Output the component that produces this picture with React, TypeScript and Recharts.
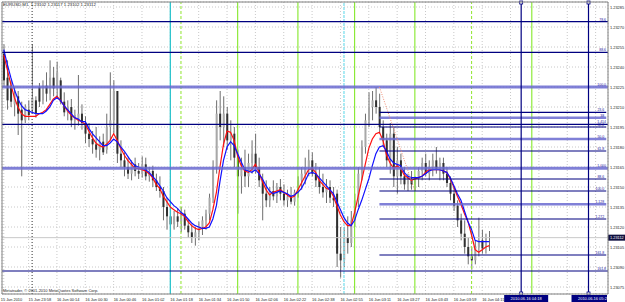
import React from "react";
import { Bar, CartesianGrid, ComposedChart, Line, ReferenceLine, XAxis, YAxis } from "recharts";

// prices are kept in points above 1.23000 (1 point = 0.00001)
const BASE = 1.23;

// EURUSD M1, two-minute candles
const OPEN = [250,232,226,212,218,208,200,208,208,215,225,215,226,220,232,224,230,214,206,210,200,200,205,198,190,186,182,178,184,178,195,200,222,175,170,165,160,167,162,160,167,158,162,155,150,147,135,128,122,128,124,130,121,116,112,116,120,125,130,142,165,205,195,205,185,190,172,158,165,158,168,175,165,155,145,140,147,143,150,145,140,143,139,146,155,160,165,170,160,155,150,146,150,142,145,100,95,112,108,125,140,160,180,200,210,215,210,195,185,170,190,158,170,158,152,155,152,156,162,168,160,165,170,163,168,160,153,145,136,125,115,105,98,95,105,110,104,102];
const HIGH = [257,245,230,225,222,214,212,215,257,218,228,230,236,245,240,244,232,221,215,216,208,234,212,203,198,192,195,188,190,205,236,230,222,185,176,172,170,172,168,173,172,165,166,160,158,150,142,134,132,134,135,133,126,122,120,124,128,133,145,170,215,222,218,210,200,195,178,172,178,175,185,190,172,160,155,150,155,153,156,152,148,150,148,158,165,172,178,176,168,165,160,156,155,150,148,120,120,128,132,145,165,185,205,221,222,225,220,200,190,198,195,180,175,165,160,162,158,165,172,175,170,175,180,172,172,165,158,150,140,130,125,112,105,110,127,118,115,117];
const LOW = [225,208,210,203,189,158,198,200,206,202,210,212,214,215,218,216,212,203,200,195,193,196,193,183,180,175,172,170,174,175,185,190,168,165,158,156,155,158,156,157,155,154,150,147,142,125,118,112,118,120,116,118,112,108,106,110,114,118,125,138,160,185,180,178,170,165,130,145,150,150,160,160,150,125,135,135,140,138,140,136,135,137,136,142,148,152,158,158,150,145,142,138,138,135,90,82,90,100,105,120,135,155,175,195,200,205,190,180,165,160,150,145,152,148,147,148,147,150,155,158,155,158,160,155,155,150,140,132,120,110,100,92,88,92,98,100,100,102];
const CLOSE = [230,215,214,220,205,200,210,204,217,205,214,226,220,232,224,236,214,206,210,200,204,205,198,190,186,182,178,184,176,195,200,222,175,170,165,160,167,162,160,167,158,162,155,150,147,135,128,122,128,124,130,121,116,112,116,120,125,130,142,165,205,195,205,185,190,172,158,165,158,168,175,165,155,145,140,147,143,150,145,140,143,139,146,155,160,165,170,160,155,150,146,150,142,140,100,95,112,108,125,140,160,180,200,210,215,210,195,185,170,190,158,170,158,152,155,152,156,162,168,160,165,170,163,168,160,153,145,136,125,115,105,98,95,105,110,104,112];
// fast (red) and slow (blue) moving averages
const MA_FAST = [249,238,227,217,210,205,203,203,203,203,205,206,208,212,216,218,215,211,207,204,202,200,199,197,192,187,183,181,180,182,185,190,185,179,174,170,167,164,164,163,162,160,157,152,149,143,139,135,133,131,130,128,124,121,119,118,119,120,123,133,146,165,182,192,191,185,173,166,162,161,163,167,161,154,148,144,146,147,148,146,144,142,143,148,153,158,163,164,161,155,152,149,148,143,136,129,124,121,121,131,143,155,167,179,186,190,191,185,174,168,164,166,164,159,157,155,156,157,158,161,163,163,163,163,162,161,156,150,143,137,130,124,114,103,101,103,105,106];
const MA_SLOW = [253,242,232,223,216,211,208,207,206,205,205,205,207,210,215,217,215,211,208,205,202,201,199,199,194,190,187,184,181,181,183,186,184,180,177,173,169,166,165,164,163,161,158,155,151,147,142,139,136,134,131,129,126,123,121,120,119,119,120,126,136,154,170,180,184,181,175,169,163,162,161,163,160,156,151,147,145,146,147,146,145,143,144,146,149,154,160,161,160,157,154,151,148,145,139,133,127,123,121,125,133,140,148,156,166,175,180,181,177,171,168,167,166,161,158,157,157,157,158,160,162,163,163,163,162,161,157,151,145,140,132,124,118,110,109,109,109,109];

const SLOTS = 171; // candle slots across the window, the rest is empty shift space

const TICK_IDX = [0, 7, 15, 23, 31, 39, 47, 55, 63, 71, 79, 87, 95, 103, 111, 119, 127, 135, 143, 151, 159, 167];
const TICK_TEXT = ["15 Jun 2010", "15 Jun 23:58", "16 Jun 00:14", "16 Jun 00:30", "16 Jun 00:46", "16 Jun 01:02", "16 Jun 01:18", "16 Jun 01:34", "16 Jun 01:50", "16 Jun 02:06", "16 Jun 02:22", "16 Jun 02:38", "16 Jun 02:55", "16 Jun 03:11", "16 Jun 03:27", "16 Jun 03:43", "16 Jun 03:59", "16 Jun 04:15", "", "", "", ""];
const PRICE_TICKS = [75, 90, 105, 120, 135, 150, 165, 180, 195, 210, 225, 240, 255, 270, 285];

// fibonacci levels
const FULL_LEVELS = [274, 251, 197, 87];
const FULL_TEXT = ["78.6", "88.6", "1.414", "161.8"];
const FULL_WIDE_LEVELS = [225, 164];
const FULL_WIDE_TEXT = ["100.0", "1.000"];
const PART_LEVELS = [206, 195, 177, 156, 147, 126, 99];
const PART_TEXT = ["23.6", "38.2", "61.8", "88.6", "100.0", "1.272", "161.8"];
const PART_WIDE_LEVELS = [202, 186, 137];
const PART_WIDE_TEXT = ["38", "50.0", "1.128"];
const FIB_FROM = 106;

const GREEN_SOLID = [66, 83, 99, 116, 149];
const GREEN_DASHED = [50, 132];
const TIME_LINES = [146, 165];
const TIME_LINE_TEXT = ["2010.06.16 04:18", "2010.06.16 05:27"];
const BID = 112;

const data = Array.from({ length: SLOTS }, (_, i) =>
  i < OPEN.length
    ? { i, o: OPEN[i], h: HIGH[i], l: LOW[i], c: CLOSE[i], fast: MA_FAST[i], slow: MA_SLOW[i] }
    : { i }
);

const fmt = (v: number) => (BASE + v / 100000).toFixed(5);
const FONT = "'Liberation Sans', Arial, sans-serif";
const NAVY = "#000080";

function Candle(props: any) {
  const { x, y, width, height, payload } = props;
  if (!payload || payload.h == null || !isFinite(y)) return null;
  const span = payload.h - payload.l || 1;
  const at = (v: number) => y + ((payload.h - v) / span) * height;
  const cx = x + width / 2;
  const top = at(Math.max(payload.o, payload.c));
  const bot = at(Math.min(payload.o, payload.c));
  const up = payload.c >= payload.o;
  return (
    <g>
      <line x1={cx} x2={cx} y1={y} y2={y + height} stroke="#6e6e6e" strokeWidth={1} />
      <rect x={x} y={top} width={width} height={Math.max(bot - top, 1)} fill={up ? "#a8a8a8" : "#303030"} />
    </g>
  );
}

function TimeTick(props: any) {
  const { x, y, payload } = props;
  const k = TICK_IDX.indexOf(payload.value);
  const text = k >= 0 ? TICK_TEXT[k] : "";
  return (
    <text x={payload.value === 0 ? x - 3 : x} y={y + 5} fontSize={3.9} fontFamily={FONT} fill="#222" textAnchor="start" dominantBaseline="central">
      {text}
    </text>
  );
}

function PriceTick(props: any) {
  const { x, y, payload } = props;
  return (
    <text x={x + 2} y={y} fontSize={3.9} fontFamily={FONT} fill="#222" textAnchor="start" dominantBaseline="central">
      {fmt(payload.value)}
    </text>
  );
}

function FibText(props: any) {
  const { viewBox, text } = props;
  if (!viewBox) return null;
  return (
    <text x={viewBox.x + viewBox.width - 2} y={viewBox.y - 0.9} fontSize={3.5} fontFamily={FONT} fill="#1a1aa0" textAnchor="end">
      {text}
    </text>
  );
}

function TimeFlag(props: any) {
  const { viewBox, text } = props;
  if (!viewBox) return null;
  const { x, y, height } = viewBox;
  const left = x - 17;
  const right = Math.min(x + 27, 607);
  return (
    <g>
      <rect x={x - 1.5} y={y - 1} width={3} height={3} fill="#fff" stroke={NAVY} strokeWidth={0.8} />
      <rect x={x - 1.5} y={y + height - 2} width={3} height={3} fill="#fff" stroke={NAVY} strokeWidth={0.8} />
      <rect x={left} y={y + height + 1} width={right - left} height={7} fill={NAVY} />
      <text x={left + 22} y={y + height + 4.7} fontSize={4} fontFamily={FONT} fill="#fff" textAnchor="middle" dominantBaseline="central">
        {text}
      </text>
    </g>
  );
}

function BidTag(props: any) {
  const { viewBox } = props;
  if (!viewBox) return null;
  const x = viewBox.x + viewBox.width;
  return (
    <g>
      <rect x={x} y={viewBox.y - 3} width={17} height={6} fill="#101040" />
      <text x={x + 2} y={viewBox.y} fontSize={3.9} fontFamily={FONT} fill="#fff" dominantBaseline="central">
        {fmt(BID)}
      </text>
    </g>
  );
}

export default function App() {
  return (
    <div style={{ position: "relative", width: 625, height: 302, overflow: "hidden", background: "#fff" }}>
      <style>{"body{margin:0}"}</style>
      <ComposedChart width={625} height={302} data={data} margin={{ top: 0, right: 0, bottom: 0, left: 0 }}>
        <CartesianGrid stroke="#c8c8c8" strokeDasharray="1 2" />
        <XAxis dataKey="i" type="category" ticks={TICK_IDX} interval={0} height={8} tickSize={0} tickMargin={0} tickLine={false} axisLine={{ stroke: "#808080" }} tick={<TimeTick />} />
        <XAxis xAxisId="top" orientation="top" dataKey="i" type="category" height={2} tick={false} tickLine={false} axisLine={{ stroke: "#808080" }} />
        <YAxis yAxisId="left" orientation="left" width={2} type="number" domain={[0, 1]} tick={false} tickLine={false} axisLine={{ stroke: "#808080" }} />
        <YAxis orientation="right" type="number" domain={[69.75, 288.75]} allowDataOverflow ticks={PRICE_TICKS} interval={0} width={17} tickSize={0} tickMargin={0} tickLine={false} axisLine={{ stroke: "#808080" }} tick={<PriceTick />} />

        <ReferenceLine x={8} stroke="#303030" strokeDasharray="1 2" />
        <ReferenceLine x={47} stroke="#2cc3cc" strokeWidth={1.3} />
        <ReferenceLine x={96} stroke="#7fe0ee" strokeWidth={1.3} strokeDasharray="3 1" />
        {GREEN_SOLID.map((v) => (
          <ReferenceLine key={"g" + v} x={v} stroke="#84e82a" strokeWidth={1.1} />
        ))}
        {GREEN_DASHED.map((v) => (
          <ReferenceLine key={"gd" + v} x={v} stroke="#9ae840" strokeWidth={1.1} strokeDasharray="3 2" />
        ))}
        <ReferenceLine y={BID} stroke="#c8c8c8" label={(p: any) => <BidTag {...p} />} />

        <Bar dataKey={(d: any) => (d.h == null ? null : [d.l, d.h])} barSize={2} shape={(p: any) => <Candle {...p} />} isAnimationActive={false} />
        <Line dataKey="fast" stroke="#ff1010" strokeWidth={1.2} dot={false} activeDot={false} isAnimationActive={false} />
        <Line dataKey="slow" stroke="#1010ff" strokeWidth={1.2} dot={false} activeDot={false} isAnimationActive={false} />

        {FULL_WIDE_LEVELS.map((v, k) => (
          <ReferenceLine key={"fw" + v} y={v} stroke="#6a6ad0" strokeOpacity={0.85} strokeWidth={3} label={(p: any) => <FibText {...p} text={FULL_WIDE_TEXT[k]} />} />
        ))}
        {FULL_LEVELS.map((v, k) => (
          <ReferenceLine key={"f" + v} y={v} stroke={NAVY} strokeWidth={1.2} label={(p: any) => <FibText {...p} text={FULL_TEXT[k]} />} />
        ))}
        {PART_WIDE_LEVELS.map((v, k) => (
          <ReferenceLine key={"pw" + v} segment={[{ x: FIB_FROM, y: v }, { x: SLOTS - 1, y: v }]} stroke="#6a6ad0" strokeOpacity={0.85} strokeWidth={2.5} label={(p: any) => <FibText {...p} text={PART_WIDE_TEXT[k]} />} />
        ))}
        {PART_LEVELS.map((v, k) => (
          <ReferenceLine key={"p" + v} segment={[{ x: FIB_FROM, y: v }, { x: SLOTS - 1, y: v }]} stroke={NAVY} strokeWidth={1.2} label={(p: any) => <FibText {...p} text={PART_TEXT[k]} />} />
        ))}
        <ReferenceLine segment={[{ x: FIB_FROM, y: 225 }, { x: 116, y: 147 }]} stroke="#f08a70" strokeDasharray="1 1.5" />

        {TIME_LINES.map((v, k) => (
          <ReferenceLine key={"t" + v} x={v} stroke={NAVY} strokeWidth={1.2} label={(p: any) => <TimeFlag {...p} text={TIME_LINE_TEXT[k]} />} />
        ))}
      </ComposedChart>
      <div style={{ position: "absolute", left: 3, top: 3, fontSize: 4.3, lineHeight: "4px", fontFamily: FONT, color: "#222", whiteSpace: "pre" }}>
        {"EURUSD,M1  1.23102 1.23117 1.23102 1.23112"}
      </div>
      <div style={{ position: "absolute", left: 3, top: 289, fontSize: 4, lineHeight: "4px", fontFamily: FONT, color: "#222", whiteSpace: "pre" }}>
        {"Metatrader, © 2001-2010 MetaQuotes Software Corp."}
      </div>
    </div>
  );
}
